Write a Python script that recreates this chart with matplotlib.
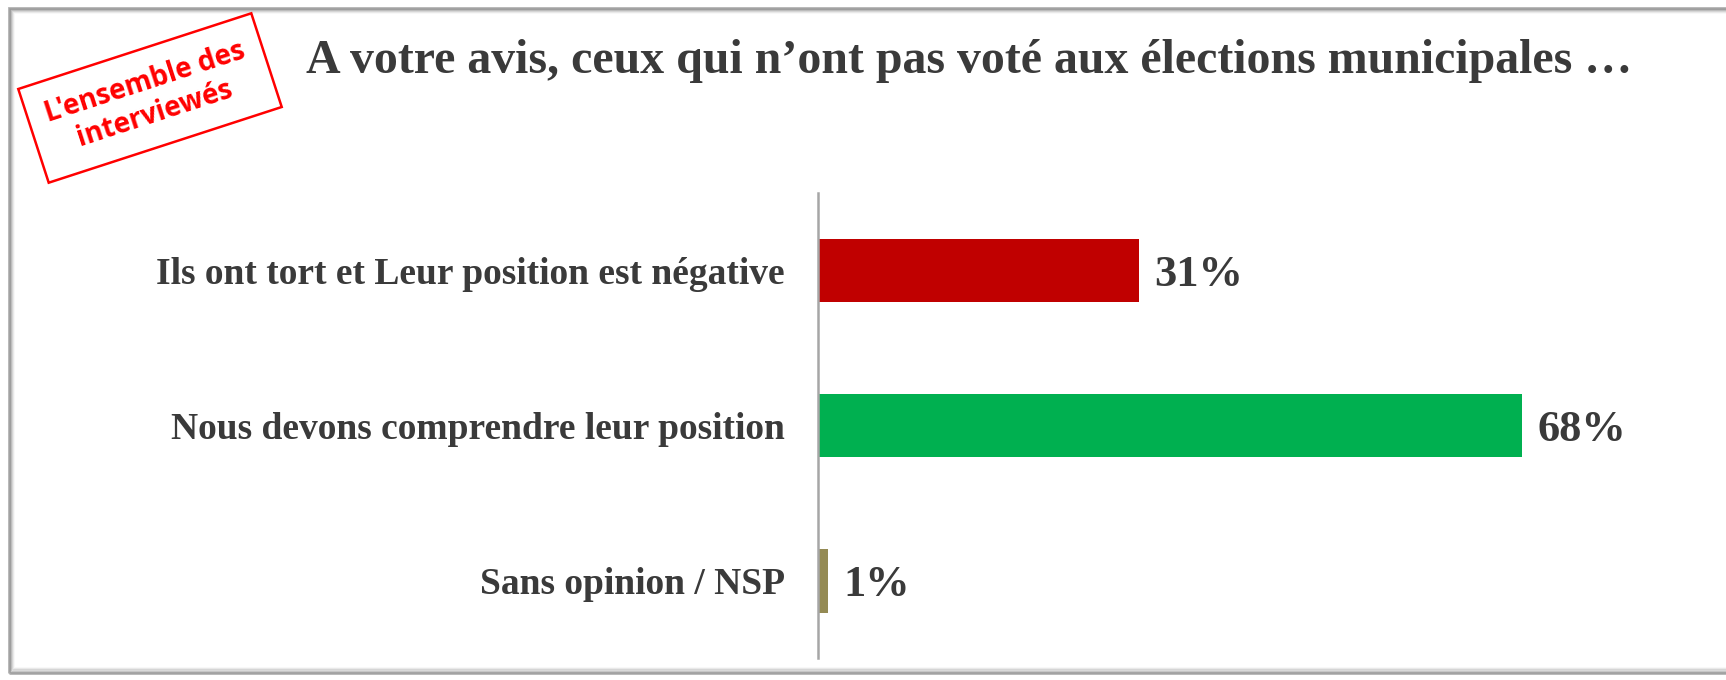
import matplotlib.pyplot as plt
from matplotlib.patches import Rectangle

# data
categories = ["Ils ont tort et Leur position est négative",
              "Nous devons comprendre leur position",
              "Sans opinion / NSP"]
values = [31, 68, 1]
bar_colors = ["#C00000", "#00B050", "#948A54"]
title = "A votre avis, ceux qui n\u2019ont pas voté aux élections municipales \u2026"
stamp = "L'ensemble des\ninterviewés"

txt = "#3a3a3a"
serif = ["Liberation Serif", "DejaVu Serif"]

fig = plt.figure(figsize=(17.26, 6.8), dpi=100)

# frame with a soft shadow (left, top, bottom; open to the right)
for i, a in enumerate([0.6, 0.35, 0.2, 0.12, 0.06]):
    fig.add_artist(Rectangle((0.005 + i * 0.0006, 0.011 + i * 0.0015),
                             1.2, 0.977 - i * 0.003, transform=fig.transFigure,
                             fill=False, edgecolor="#7f7f7f", alpha=a, lw=2))

ax = fig.add_axes([0.474, 0.032, 0.48, 0.684])
y = range(len(categories))
ax.barh(y, values, height=0.41, color=bar_colors)
ax.set_xlim(0, 80)
ax.set_ylim(2.5, -0.5)
ax.set_yticks(list(y))
ax.set_yticklabels(categories, fontsize=27, fontweight="bold", color=txt, family=serif)
ax.tick_params(axis="y", length=0, pad=24)
ax.set_xticks([])
for s in ["top", "right", "bottom"]:
    ax.spines[s].set_visible(False)
ax.spines["left"].set_color("#a6a6a6")
ax.spines["left"].set_linewidth(1.8)

for i, v in enumerate(values):
    ax.annotate(f"{v}%", (v, i), xytext=(11, -3), textcoords="offset points",
                va="center", ha="left", fontsize=32, fontweight="bold",
                color=txt, family=serif)

fig.text(0.177, 0.91, title, fontsize=34.5, fontweight="bold", color=txt,
         family=serif, ha="left", va="center")

fig.text(150 / 1726, 1 - 98 / 680, stamp, fontsize=20,
         color="#FF0000", family=["Open Sans", "DejaVu Sans"], fontweight="bold",
         ha="center", va="center", rotation=18, rotation_mode="anchor",
         linespacing=1.2, multialignment="center",
         bbox=dict(boxstyle="square,pad=0.65", fc="white", ec="#FF0000", lw=1.8))

fig.savefig("out.png", dpi=100)
